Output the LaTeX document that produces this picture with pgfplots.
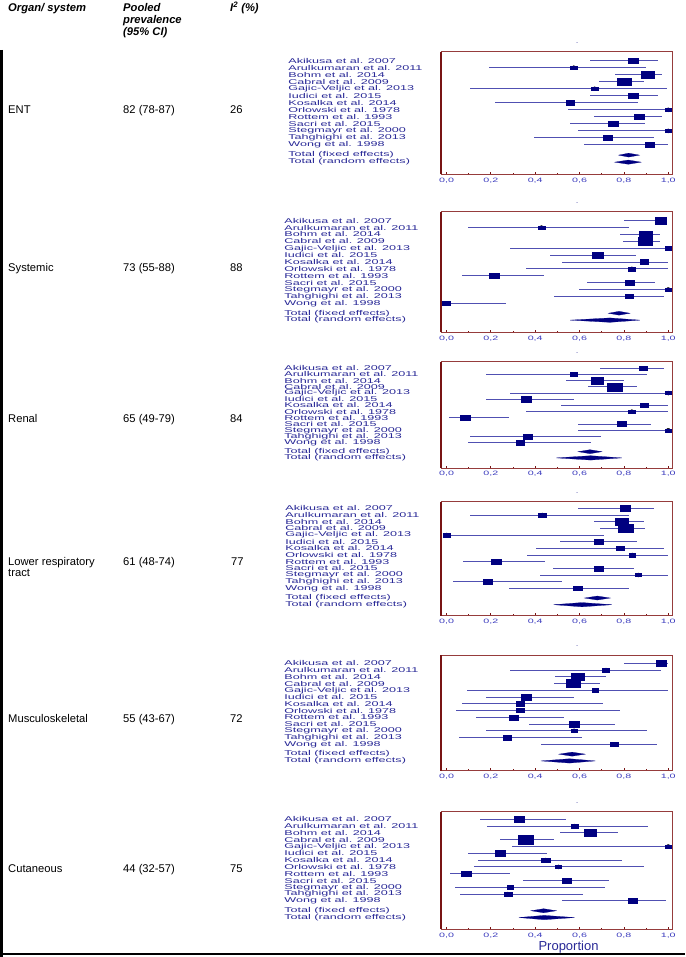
\documentclass[border=0pt]{standalone}
\usepackage{fontspec}
\setmainfont{Liberation Sans}
\usepackage{pgfplots}
\usepackage{pgfplotstable}
\pgfplotsset{compat=1.18}
\definecolor{boxcol}{RGB}{0,0,128}
\definecolor{cicol}{RGB}{80,80,178}
\definecolor{labcol}{RGB}{40,40,150}
\definecolor{tickcol}{RGB}{60,60,190}
\definecolor{spinecol}{RGB}{150,60,60}
\definecolor{spinedark}{RGB}{120,20,20}

% columns: row, estimate, lower CI, upper CI, box width (px)
\pgfplotstableread{
y est lo hi w
1 0.844 0.646 0.956 10
2 0.574 0.191 0.901 6.7
3 0.908 0.761 0.971 12.3
4 0.802 0.686 0.889 13.3
5 0.668 0.105 0.994 6.3
6 0.841 0.646 0.956 10
7 0.559 0.218 0.862 8.3
8 1.000 0.547 1.000 5.7
9 0.869 0.667 0.971 10
10 0.751 0.556 0.896 9.7
11 1.000 0.593 1.000 5.7
12 0.728 0.393 0.937 8.7
13 0.916 0.619 0.997 8.3
}\entdata
\pgfplotstableread{
y est lo hi w
1 0.965 0.799 0.987 11
2 0.428 0.098 0.821 6.7
3 0.899 0.784 0.964 13.3
4 0.896 0.796 0.964 14.7
5 1.000 0.288 1.000 5.7
6 0.680 0.465 0.856 11
7 0.893 0.521 1.000 8.3
8 0.836 0.360 1.000 6.7
9 0.216 0.071 0.438 10
10 0.826 0.634 0.941 9.7
11 1.000 0.596 1.000 5.7
12 0.823 0.483 0.982 8.3
13 0.000 0.000 0.266 8.3
}\sysdata
\pgfplotstableread{
y est lo hi w
1 0.886 0.691 0.979 8.3
2 0.574 0.180 0.904 6.7
3 0.680 0.541 0.799 12.7
4 0.758 0.637 0.859 14.3
5 1.000 0.288 1.000 5.7
6 0.360 0.176 0.574 10.3
7 0.893 0.518 1.000 7.7
8 0.836 0.360 1.000 6.7
9 0.086 0.011 0.281 10
10 0.790 0.593 0.922 9.3
11 1.000 0.593 1.000 5.7
12 0.366 0.108 0.697 8.3
13 0.333 0.098 0.652 8.3
}\rendata
\pgfplotstableread{
y est lo hi w
1 0.806 0.593 0.937 10
2 0.432 0.105 0.821 7.3
3 0.791 0.664 0.889 13.3
4 0.806 0.691 0.896 15
5 0.000 0.000 0.709 6.7
6 0.685 0.514 0.859 9.3
7 0.784 0.405 0.979 8.3
8 0.838 0.363 1.000 6.3
9 0.224 0.075 0.443 10
10 0.685 0.480 0.847 9.3
11 0.865 0.423 1.000 6
12 0.186 0.029 0.521 8.3
13 0.592 0.281 0.821 8.3
}\lrtdata
\pgfplotstableread{
y est lo hi w
1 0.967 0.802 1.000 10.3
2 0.719 0.288 0.967 6.7
3 0.592 0.491 0.719 13.3
4 0.571 0.483 0.694 14.3
5 0.670 0.093 0.997 6.3
6 0.360 0.176 0.574 10.3
7 0.332 0.071 0.706 8.7
8 0.332 0.041 0.781 7.3
9 0.302 0.131 0.529 9.3
10 0.575 0.371 0.758 10.3
11 0.575 0.180 0.904 6
12 0.273 0.056 0.611 8
13 0.755 0.428 0.949 7.7
}\musdata
\pgfplotstableread{
y est lo hi w
1 0.326 0.150 0.539 10
2 0.578 0.183 0.908 6.7
3 0.649 0.511 0.772 12
4 0.356 0.243 0.483 15
5 1.000 0.296 1.000 5.3
6 0.243 0.098 0.453 10
7 0.447 0.143 0.791 8.3
8 0.505 0.123 0.889 6
9 0.089 0.014 0.285 10
10 0.542 0.344 0.731 9.3
11 0.287 0.036 0.716 6
12 0.276 0.060 0.616 8
13 0.841 0.521 0.989 9
}\cutdata

\pgfplotsset{
  forest/.style={
    scale only axis, width=231pt, anchor=north west,
    xmin=-0.025, xmax=1.017, y dir=reverse, clip=false,
    axis line style={draw=spinecol, line width=0.6pt},
    xtick={0,0.2,0.4,0.6,0.8,1.0},
    minor xtick={0.1,0.3,0.5,0.7,0.9},
    xtick pos=bottom, tick align=inside,
    major tick length=2.5pt, minor tick length=1.5pt,
    xtick style={draw=spinedark, line width=0.8pt},
    ytick style={draw=none},
    ytick={1,2,3,4,5,6,7,8,9,10,11,12,13,14.45,15.45},
    yticklabels={Akikusa et al. 2007, Arulkumaran et al. 2011, Bohm et al. 2014,
      Cabral et al. 2009, Gajic-Veljic et al. 2013, Iudici et al. 2015,
      Kosalka et al. 2014, Orlowski et al. 1978, Rottem et al. 1993,
      Sacri et al. 2015, Stegmayr et al. 2000, Tahghighi et al. 2013,
      Wong et al. 1998, Total (fixed effects), Total (random effects)},
    xticklabel style={font=\fontsize{6.3}{6.3}\selectfont, text=tickcol, xscale=1.7,
      /pgf/number format/fixed, /pgf/number format/fixed zerofill,
      /pgf/number format/precision=1, /pgf/number format/use comma},
    title={\fontsize{5}{5}\selectfont -},
    title style={at={(axis description cs:0.59,1)}, anchor=south, inner sep=1pt, text=boxcol},
    /pgf/number format/assume math mode=true,
  },
  labshift/.style={yticklabel style={font=\fontsize{7}{7}\selectfont, text=labcol,
      anchor=west, inner sep=0pt, xshift=#1, xscale=1.8}},
}

\newcommand{\panelplots}[3]{%
  \addplot[only marks, mark=none, forget plot,
    error bars/.cd, x dir=both, x explicit, error mark=none,
    error bar style={cicol, line width=0.9pt}]
    table[x=est, y=y, x error plus expr=\thisrow{hi}-\thisrow{est},
      x error minus expr=\thisrow{est}-\thisrow{lo}] {#1};
  \addplot[scatter, only marks, mark=square*,
    scatter/use mapped color={draw=boxcol, fill=boxcol},
    mark options={xscale=1.8},
    visualization depends on={\thisrow{w}/3.6 \as \msz},
    scatter/@pre marker code/.append style={/tikz/mark size=\msz}]
    table[x=est, y=y] {#1};
  \addplot[fill=boxcol, draw=boxcol, line width=0.2pt] coordinates {#2} -- cycle;
  \addplot[fill=boxcol, draw=boxcol, line width=0.2pt] coordinates {#3} -- cycle;
  \draw[spinedark, line width=2pt] (axis description cs:0,0) -- (axis description cs:0,1);
}

\begin{document}
\begin{tikzpicture}
\useasboundingbox (0,0) rectangle (685pt,-957pt);
\draw[black, line width=2.5pt] (1.25pt,-50pt) -- (1.25pt,-957pt);
\draw[black, line width=2pt] (0pt,-954.3pt) -- (685pt,-954.3pt);

% header
\begin{scope}[every node/.style={anchor=base west, inner sep=0pt, font=\fontsize{11.2}{11.2}\selectfont\bfseries\itshape}]
\node at (8pt,-11.7pt) {Organ/ system};
\node at (123pt,-11.7pt) {Pooled};
\node at (123pt,-23.5pt) {prevalence};
\node at (123pt,-35.2pt) {(95\% CI)};
\node at (230pt,-11.7pt) {I\textsuperscript{2} (\%)};
\end{scope}

\begin{scope}[every node/.style={anchor=base west, inner sep=0pt, font=\fontsize{11.2}{11.2}\selectfont}]
\node at (8pt,-114pt) {ENT};
\node at (123pt,-114pt) {82 (78-87)};
\node at (230pt,-114pt) {26};
\node at (8pt,-272pt) {Systemic};
\node at (123pt,-272pt) {73 (55-88)};
\node at (230pt,-272pt) {88};
\node at (8pt,-422pt) {Renal};
\node at (123pt,-422pt) {65 (49-79)};
\node at (230pt,-422pt) {84};
\node at (8pt,-565pt) {Lower respiratory};
\node at (8pt,-576.7pt) {tract};
\node at (123pt,-565pt) {61 (48-74)};
\node at (231pt,-565pt) {77};
\node at (8pt,-722pt) {Musculoskeletal};
\node at (123pt,-722pt) {55 (43-67)};
\node at (230pt,-722pt) {72};
\node at (8pt,-872pt) {Cutaneous};
\node at (123pt,-872pt) {44 (32-57)};
\node at (230pt,-872pt) {75};
\end{scope}

% ENT
\begin{axis}[forest, labshift=-153pt, at={(441pt,-51.7pt)}, height=122.6pt, ymin=-0.28, ymax=17.18]
\panelplots{\entdata}{(0.776,14.45)(0.821,14.17)(0.871,14.45)(0.821,14.73)}{(0.758,15.45)(0.820,15.15)(0.878,15.45)(0.820,15.75)}
\end{axis}
% Systemic
\begin{axis}[forest, labshift=-157pt, at={(441pt,-211.7pt)}, height=120.6pt, ymin=-0.31, ymax=17.22]
\panelplots{\sysdata}{(0.730,14.45)(0.778,14.17)(0.827,14.45)(0.778,14.73)}{(0.557,15.45)(0.737,15.13)(0.872,15.45)(0.737,15.77)}
\end{axis}
% Renal
\begin{axis}[forest, labshift=-157pt, at={(441pt,-361.7pt)}, height=106.3pt, ymin=-0.06, ymax=17.08]
\panelplots{\rendata}{(0.593,14.45)(0.647,14.13)(0.701,14.45)(0.647,14.77)}{(0.495,15.45)(0.650,15.1)(0.791,15.45)(0.650,15.8)}
\end{axis}
% Lower respiratory tract
\begin{axis}[forest, labshift=-156pt, at={(441pt,-501.7pt)}, height=114pt, ymin=0.01, ymax=17.1]
\panelplots{\lrtdata}{(0.622,14.45)(0.680,14.15)(0.739,14.45)(0.680,14.75)}{(0.483,15.45)(0.611,15.13)(0.746,15.45)(0.611,15.77)}
\end{axis}
% Musculoskeletal
\begin{axis}[forest, labshift=-157pt, at={(441pt,-655pt)}, height=115.7pt, ymin=-0.23, ymax=16.9]
\panelplots{\musdata}{(0.506,14.45)(0.566,14.15)(0.626,14.45)(0.566,14.75)}{(0.426,15.45)(0.555,15.13)(0.671,15.45)(0.555,15.77)}
\end{axis}
% Cutaneous
\begin{axis}[forest, labshift=-157pt, at={(441pt,-811.7pt)}, height=117.6pt, ymin=-0.12, ymax=17.18,
  xlabel={Proportion},
  xlabel style={at={(axis description cs:0.552,0)}, anchor=base, yshift=-20.7pt, inner sep=0pt,
    font=\fontsize{13}{13}\selectfont, text=labcol}]
\panelplots{\cutdata}{(0.381,14.45)(0.438,14.15)(0.495,14.45)(0.438,14.75)}{(0.326,15.45)(0.440,15.13)(0.578,15.45)(0.440,15.77)}
\end{axis}
\end{tikzpicture}
\end{document}
